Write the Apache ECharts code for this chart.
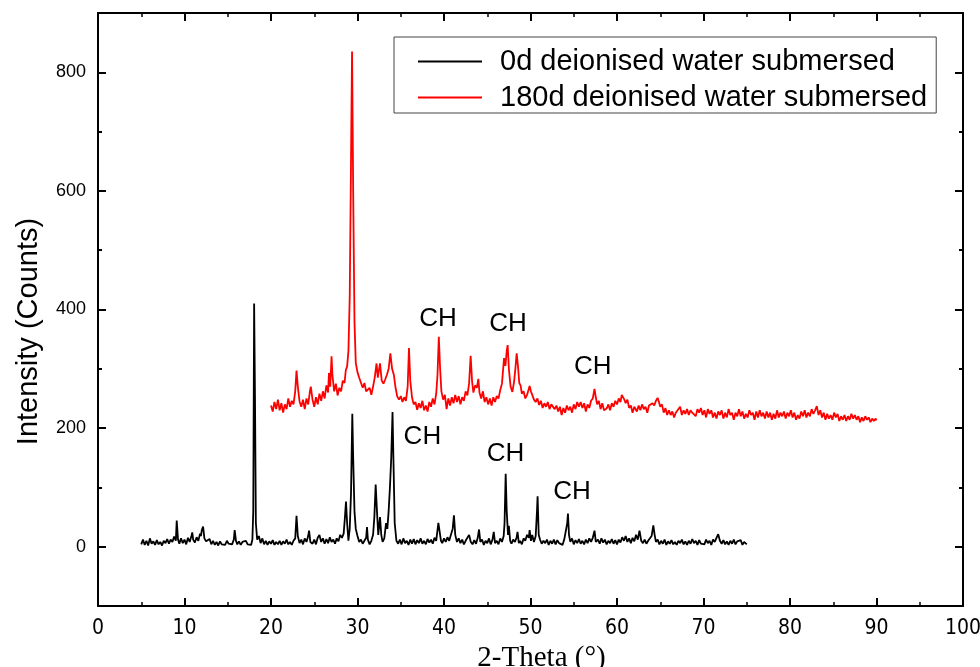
<!DOCTYPE html>
<html>
<head>
<meta charset="utf-8">
<script src="https://cdn.jsdelivr.net/npm/echarts@6/dist/echarts.min.js"></script>
<style>html,body{margin:0;padding:0;background:#fff;}#c{width:980px;height:667px;}</style>
</head>
<body>
<div id="c"></div>
<script>
var seriesNames = ['0d deionised water submersed', '180d deionised water submersed'];
var xTicks = [0,10,20,30,40,50,60,70,80,90,100];
var yLabelValues = [0,200,400,600,800];
var yMinorValues = [100,300,500,700];

// 0d pattern [2-theta, counts]
var data0d = [
[5.0,4],[5.2,12],[5.4,3],[5.6,10],[5.8,2],[6.0,14],[6.2,5],[6.4,9],[6.6,3],[6.8,11],[7.0,4],[7.2,8],[7.4,2],[7.6,10],[7.8,6],[8.0,13],[8.2,5],[8.4,12],[8.6,8],[8.8,17],[9.0,10],[9.1,44],[9.25,12],[9.4,5],[9.6,14],[9.8,6],[10.0,12],[10.2,4],[10.4,15],[10.6,8],[10.8,18],[10.9,24],[11.0,12],[11.2,7],[11.4,16],[11.6,10],[11.8,22],[11.9,18],[12.0,28],[12.15,34],[12.3,14],[12.5,9],[12.7,6],[12.9,13],[13.1,4],[13.3,10],[13.5,3],[13.7,8],[13.9,2],[14.1,9],[14.3,4],[14.5,7],[14.7,3],[14.9,10],[15.1,5],[15.3,8],[15.5,4],[15.7,12],[15.8,28],[15.95,10],[16.1,4],[16.3,9],[16.5,3],[16.7,8],[16.9,5],[17.1,10],[17.3,4],[17.5,7],[17.7,3],[17.85,12],[17.95,60],[18.05,410],[18.15,250],[18.25,40],[18.4,12],[18.6,18],[18.8,6],[19.0,14],[19.2,4],[19.4,10],[19.6,3],[19.8,9],[20.0,5],[20.2,11],[20.4,3],[20.6,8],[20.8,4],[21.0,10],[21.2,3],[21.4,9],[21.6,5],[21.8,12],[22.0,4],[22.2,8],[22.4,3],[22.6,10],[22.8,14],[22.95,52],[23.1,18],[23.3,6],[23.5,12],[23.7,4],[23.9,14],[24.1,8],[24.3,18],[24.4,27],[24.55,8],[24.8,5],[25.0,12],[25.2,4],[25.4,15],[25.6,20],[25.8,8],[26.0,14],[26.2,5],[26.4,13],[26.6,6],[26.8,16],[27.0,8],[27.2,12],[27.4,5],[27.6,14],[27.8,9],[28.0,20],[28.2,15],[28.4,22],[28.55,50],[28.67,76],[28.8,40],[28.95,10],[29.1,30],[29.25,90],[29.4,224],[29.5,150],[29.65,60],[29.8,30],[30.0,18],[30.2,8],[30.4,12],[30.6,5],[30.8,10],[31.0,15],[31.1,33],[31.2,12],[31.4,4],[31.6,10],[31.8,20],[31.95,50],[32.1,105],[32.25,60],[32.4,20],[32.6,50],[32.75,20],[32.9,8],[33.1,14],[33.3,40],[33.45,30],[33.6,60],[33.75,100],[33.9,150],[34.05,227],[34.15,150],[34.3,40],[34.5,10],[34.7,5],[34.9,12],[35.1,4],[35.3,14],[35.5,6],[35.7,10],[35.9,3],[36.1,12],[36.3,5],[36.5,13],[36.7,4],[36.9,11],[37.1,6],[37.3,14],[37.5,5],[37.7,10],[37.9,4],[38.1,13],[38.3,7],[38.5,12],[38.7,5],[38.9,15],[39.1,10],[39.2,22],[39.35,40],[39.5,25],[39.65,10],[39.8,6],[40.0,14],[40.2,8],[40.4,16],[40.6,10],[40.8,20],[41.0,30],[41.15,53],[41.3,20],[41.5,8],[41.7,14],[41.9,6],[42.1,12],[42.3,4],[42.5,10],[42.7,13],[42.9,20],[43.1,8],[43.3,4],[43.5,11],[43.7,5],[43.9,15],[44.05,29],[44.2,8],[44.4,12],[44.6,3],[44.8,10],[45.0,6],[45.2,14],[45.4,4],[45.6,12],[45.75,25],[45.9,6],[46.1,10],[46.3,4],[46.5,14],[46.7,8],[46.9,18],[47.0,40],[47.13,123],[47.25,60],[47.4,20],[47.5,35],[47.65,10],[47.8,5],[48.0,12],[48.2,8],[48.4,16],[48.5,25],[48.65,6],[48.8,10],[49.0,4],[49.2,14],[49.4,10],[49.6,20],[49.8,15],[49.9,28],[50.05,10],[50.2,20],[50.4,8],[50.6,18],[50.75,60],[50.82,85],[50.95,20],[51.1,12],[51.3,5],[51.5,10],[51.7,6],[51.9,12],[52.1,3],[52.3,10],[52.5,5],[52.7,12],[52.9,4],[53.1,11],[53.3,6],[53.5,9],[53.7,3],[53.9,12],[54.1,10],[54.25,40],[54.33,56],[54.45,20],[54.6,8],[54.8,14],[55.0,4],[55.2,11],[55.4,6],[55.6,13],[55.8,5],[56.0,10],[56.2,4],[56.4,12],[56.6,6],[56.8,14],[57.0,8],[57.2,15],[57.4,27],[57.55,8],[57.8,12],[58.0,5],[58.2,14],[58.4,7],[58.6,12],[58.8,4],[59.0,10],[59.2,6],[59.4,13],[59.6,5],[59.8,11],[60.0,4],[60.2,12],[60.4,7],[60.6,16],[60.8,10],[61.0,18],[61.2,8],[61.4,14],[61.6,6],[61.8,15],[62.0,9],[62.2,20],[62.4,12],[62.6,27],[62.8,10],[63.0,6],[63.2,12],[63.4,5],[63.6,10],[63.8,8],[64.0,18],[64.2,36],[64.35,20],[64.5,8],[64.7,12],[64.9,4],[65.1,10],[65.3,5],[65.5,12],[65.7,3],[65.9,9],[66.1,5],[66.3,11],[66.5,4],[66.7,8],[66.9,3],[67.1,10],[67.3,6],[67.5,12],[67.7,4],[67.9,9],[68.1,3],[68.3,10],[68.5,5],[68.7,13],[68.9,6],[69.1,10],[69.3,3],[69.5,11],[69.7,5],[69.9,8],[70.1,4],[70.3,12],[70.5,6],[70.7,10],[70.9,3],[71.1,12],[71.3,8],[71.5,15],[71.7,21],[71.9,10],[72.1,5],[72.3,11],[72.5,4],[72.7,9],[72.9,3],[73.1,10],[73.3,5],[73.5,12],[73.7,4],[73.9,9],[74.1,6],[74.3,11],[74.5,3],[74.7,8],[75.0,4]
];

// 180d pattern [2-theta, counts]
var data180d = [
[20.0,238],[20.2,228],[20.4,244],[20.6,232],[20.8,248],[21.0,230],[21.2,242],[21.4,226],[21.6,240],[21.8,232],[22.0,250],[22.2,236],[22.4,246],[22.6,240],[22.8,262],[22.95,297],[23.1,270],[23.3,245],[23.5,236],[23.7,248],[23.9,232],[24.1,250],[24.3,240],[24.5,262],[24.6,270],[24.8,248],[25.0,236],[25.2,252],[25.4,240],[25.6,258],[25.8,246],[26.0,262],[26.2,250],[26.4,272],[26.6,260],[26.7,293],[26.85,270],[27.0,321],[27.1,290],[27.3,262],[27.5,275],[27.7,255],[27.9,268],[28.1,262],[28.3,280],[28.5,276],[28.65,298],[28.8,304],[28.95,330],[29.1,420],[29.25,650],[29.37,835],[29.5,600],[29.65,380],[29.8,310],[30.0,294],[30.2,285],[30.4,283],[30.6,268],[30.8,276],[31.0,262],[31.2,260],[31.4,268],[31.6,256],[31.8,270],[32.0,286],[32.2,309],[32.35,285],[32.6,309],[32.8,280],[33.0,275],[33.2,282],[33.4,290],[33.6,300],[33.8,326],[34.0,300],[34.2,290],[34.4,268],[34.6,253],[34.8,248],[35.0,254],[35.2,244],[35.4,252],[35.6,246],[35.8,270],[35.95,335],[36.1,280],[36.3,252],[36.5,240],[36.7,244],[36.9,231],[37.1,242],[37.3,234],[37.5,246],[37.7,230],[37.9,238],[38.1,228],[38.3,244],[38.5,236],[38.7,250],[38.9,240],[39.1,258],[39.25,290],[39.4,354],[39.55,300],[39.7,262],[39.9,248],[40.1,256],[40.3,232],[40.5,250],[40.7,238],[40.9,252],[41.1,242],[41.3,256],[41.5,244],[41.7,254],[41.9,240],[42.1,252],[42.3,246],[42.5,262],[42.7,255],[42.9,275],[43.08,322],[43.25,278],[43.4,260],[43.6,272],[43.8,268],[43.97,283],[44.1,260],[44.3,250],[44.5,262],[44.7,244],[44.9,252],[45.1,240],[45.3,250],[45.5,238],[45.7,252],[45.9,244],[46.1,254],[46.3,250],[46.5,264],[46.7,275],[46.94,318],[47.1,305],[47.25,330],[47.36,340],[47.5,300],[47.7,270],[47.9,261],[48.1,278],[48.25,300],[48.4,326],[48.55,305],[48.7,276],[48.85,272],[49.0,258],[49.2,262],[49.4,250],[49.6,256],[49.75,258],[49.9,271],[50.05,262],[50.2,256],[50.4,248],[50.6,244],[50.8,250],[51.0,239],[51.2,246],[51.4,234],[51.6,242],[51.8,236],[52.0,244],[52.2,232],[52.4,240],[52.6,239],[52.8,232],[53.0,238],[53.2,228],[53.4,236],[53.6,222],[53.8,234],[54.0,226],[54.2,238],[54.4,230],[54.6,236],[54.8,226],[55.0,240],[55.2,232],[55.4,244],[55.6,236],[55.8,244],[56.0,234],[56.2,242],[56.4,228],[56.6,240],[56.8,234],[57.0,246],[57.2,250],[57.4,266],[57.55,252],[57.7,240],[57.9,246],[58.1,232],[58.3,242],[58.5,230],[58.8,233],[59.0,240],[59.2,230],[59.4,242],[59.6,236],[59.8,246],[60.0,240],[60.2,250],[60.4,244],[60.55,256],[60.7,254],[60.85,248],[61.0,242],[61.2,248],[61.4,234],[61.6,238],[61.8,226],[62.0,236],[62.3,228],[62.5,238],[62.7,230],[62.9,240],[63.1,232],[63.3,236],[63.5,226],[63.7,238],[63.9,236],[64.1,242],[64.3,238],[64.5,246],[64.7,251],[64.85,244],[65.0,236],[65.2,240],[65.4,226],[65.6,234],[65.8,222],[66.0,230],[66.2,222],[66.4,228],[66.6,218],[66.8,226],[67.0,230],[67.3,236],[67.5,222],[67.7,230],[67.9,224],[68.1,232],[68.3,222],[68.5,230],[68.7,226],[68.9,228],[69.1,220],[69.3,232],[69.5,226],[69.7,234],[69.9,222],[70.1,230],[70.3,218],[70.5,232],[70.7,224],[70.9,230],[71.1,218],[71.3,226],[71.5,216],[71.7,228],[71.9,222],[72.1,230],[72.3,216],[72.5,226],[72.7,218],[72.9,232],[73.1,222],[73.3,226],[73.5,214],[73.7,226],[73.9,220],[74.1,232],[74.3,220],[74.5,228],[74.7,216],[74.9,224],[75.1,218],[75.3,230],[75.5,222],[75.7,226],[75.9,214],[76.1,228],[76.3,218],[76.5,230],[76.7,220],[76.9,226],[77.1,216],[77.3,228],[77.5,218],[77.7,226],[77.9,214],[78.1,224],[78.3,216],[78.5,230],[78.7,218],[78.9,226],[79.1,220],[79.3,228],[79.5,216],[79.7,226],[79.9,220],[80.1,230],[80.3,218],[80.5,226],[80.7,214],[80.9,222],[81.1,216],[81.3,228],[81.5,220],[81.7,230],[81.9,218],[82.1,226],[82.3,220],[82.5,232],[82.7,224],[82.9,230],[83.1,237],[83.3,222],[83.5,230],[83.7,218],[83.9,226],[84.1,214],[84.3,224],[84.5,216],[84.7,222],[84.9,214],[85.1,226],[85.3,218],[85.5,224],[85.7,212],[85.9,220],[86.1,214],[86.3,222],[86.5,212],[86.7,220],[86.9,214],[87.1,224],[87.3,216],[87.5,222],[87.7,214],[87.9,220],[88.1,210],[88.3,218],[88.5,212],[88.7,220],[88.9,214],[89.1,218],[89.3,210],[89.5,216],[89.7,212],[89.9,216],[90.0,213]
];

// "CH" annotation anchor positions [2-theta, counts]
var chLabels = [[39.3,385],[47.4,375],[57.2,304],[37.5,186],[47.1,157],[54.8,92]];

var chart = echarts.init(document.getElementById('c'), null, {renderer: 'canvas'});
var SANS = '"Liberation Sans", Arial, sans-serif';
var NARROW = '"Liberation Sans Narrow", "Arial Narrow", "DejaVu Sans Condensed", "Liberation Sans", sans-serif';

function xAx(pos, showLabel) {
  return {
    type: 'value', min: 0, max: 100, interval: 10, position: pos,
    axisLine: {show: true, onZero: false, lineStyle: {color: '#000', width: 2}},
    axisTick: {show: true, inside: true, length: 8, lineStyle: {color: '#000', width: 2}},
    minorTick: {show: true, splitNumber: 2, length: 4, lineStyle: {color: '#000', width: 1.5}},
    splitLine: {show: false},
    axisLabel: {show: showLabel, color: '#000', fontFamily: NARROW, fontSize: 21, margin: 12},
    name: showLabel ? '2-Theta (\u00b0)' : '',
    nameLocation: 'middle', nameGap: 31,
    nameTextStyle: {color: '#000', fontFamily: '"Liberation Serif", "Times New Roman", serif', fontSize: 29, padding: [0, 0, 0, 22]}
  };
}
function yAx(pos, showLabel, tickVals, tickLen, showLine, name) {
  return {
    type: 'value', min: -100, max: 900, interval: 100, position: pos,
    axisLine: {show: showLine, onZero: false, lineStyle: {color: '#000', width: 2}},
    axisTick: {show: true, inside: true, length: tickLen, customValues: tickVals, lineStyle: {color: '#000', width: 2}},
    splitLine: {show: false},
    axisLabel: {show: showLabel, customValues: yLabelValues, color: '#000', fontFamily: SANS, fontSize: 18, margin: 12},
    name: name || '',
    nameLocation: 'middle', nameGap: 55,
    nameTextStyle: {color: '#000', fontFamily: SANS, fontSize: 29, padding: [0, 44, 0, 0]}
  };
}

var option = {
  animation: false,
  backgroundColor: '#fff',
  textStyle: {fontFamily: SANS},
  grid: {left: 98, right: 17, top: 13, bottom: 61, containLabel: false, outerBoundsMode: 'none'},
  xAxis: [xAx('bottom', true), xAx('top', false)],
  yAxis: [
    yAx('left', true, yLabelValues, 8, true, 'Intensity (Counts)'),
    yAx('left', false, yMinorValues, 4, false),
    yAx('right', false, yLabelValues, 8, true),
    yAx('right', false, yMinorValues, 4, false)
  ],
  legend: {
    data: seriesNames,
    orient: 'vertical', left: 394, top: 37,
    borderColor: '#444', borderWidth: 1,
    padding: [10, 9, 1, 24],
    itemWidth: 64, itemHeight: 26, itemGap: 7,
    icon: 'path://M0,0H64V2H0Z',
    textStyle: {color: '#000', fontFamily: SANS, fontSize: 29, padding: [0, 0, 0, 13]}
  },
  series: [
    {name: seriesNames[0], type: 'line', data: data0d, xAxisIndex: 0, yAxisIndex: 0,
     showSymbol: false, symbol: 'none', lineStyle: {color: '#000', width: 1.8}, itemStyle: {color: '#000'}},
    {name: seriesNames[1], type: 'line', data: data180d, xAxisIndex: 0, yAxisIndex: 0,
     showSymbol: false, symbol: 'none', lineStyle: {color: '#ff0000', width: 1.8}, itemStyle: {color: '#ff0000'}},
    {name: 'CH', type: 'scatter', data: chLabels, symbol: 'circle', symbolSize: 1, xAxisIndex: 0, yAxisIndex: 0,
     itemStyle: {color: '#ffffff', opacity: 0},
     label: {show: true, position: 'inside', formatter: 'CH', color: '#000', opacity: 1, textBorderWidth: 0, textBorderColor: 'transparent', fontFamily: SANS, fontSize: 26},
     silent: true}
  ]
};
chart.setOption(option);
</script>
</body>
</html>
